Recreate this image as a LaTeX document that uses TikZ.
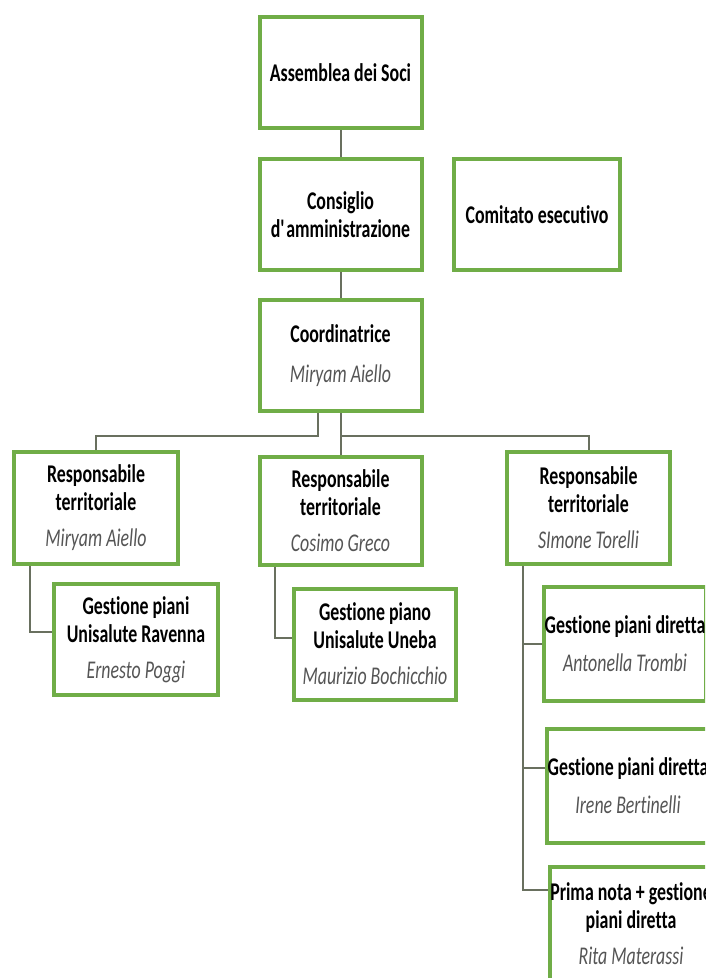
\documentclass[tikz,border=0pt]{standalone}
\usepackage{fontspec}
\setmainfont{Carlito}[FakeStretch=0.7,Ligatures={NoCommon}]
\definecolor{boxgreen}{RGB}{112,173,71}
\definecolor{linegray}{RGB}{105,112,95}
\definecolor{namegray}{RGB}{85,85,85}
\newcommand\nm[1]{{\mdseries\itshape\color{namegray}#1}}
\begin{document}
\begin{tikzpicture}[x=1pt,y=-1pt,
  box/.style={draw=boxgreen,line width=4pt,fill=white,rectangle,inner sep=0pt,
    minimum width=162pt,minimum height=111pt,align=center,
    font=\fontsize{25.5}{28}\selectfont\bfseries},
  conn/.style={draw=linegray,line width=2pt}]
\useasboundingbox (0,0) rectangle (705,978);
\clip (0,0) rectangle (705,978);
\fill[white] (0,0) rectangle (705,978);
\coordinate (j) at (340.5,436);
\node[box] (asm) at (340.5,72.5) {Assemblea dei Soci};
\node[box] (cda) at (340.5,214.5) {Consiglio\\d\textquotesingle amministrazione};
\node[box,minimum width=166pt] (ce) at (537,214.5) {Comitato esecutivo};
\node[box] (coord) at (340.5,355.5) {Coordinatrice\\[12pt]\nm{Miryam Aiello}};
\node[box,minimum width=164pt,minimum height=112pt] (r1) at (96,508) {Responsabile\\territoriale\\[8pt]\nm{Miryam Aiello}};
\node[box,minimum height=108pt] (r2) at (340.5,511) {Responsabile\\territoriale\\[8pt]\nm{Cosimo Greco}};
\node[box,minimum width=163pt,minimum height=112pt] (r3) at (588.5,508) {Responsabile\\territoriale\\[8pt]\nm{SImone Torelli}};
\node[box,minimum width=164pt] (g1) at (136,639.5) {Gestione piani\\Unisalute Ravenna\\[8pt]\nm{Ernesto Poggi}};
\node[box] (g2) at (375,644) {Gestione piano\\Unisalute Uneba\\[8pt]\nm{Maurizio Bochicchio}};
\node[box,minimum height=114pt] (d1) at (625,644) {Gestione piani diretta\\[10pt]\nm{Antonella Trombi}};
\node[box,minimum height=114pt] (d2) at (628,786) {Gestione piani diretta\\[10pt]\nm{Irene Bertinelli}};
\node[box,minimum height=114pt] (d3) at (631,924) {Prima nota + gestione\\piani diretta\\[8pt]\nm{Rita Materassi}};
\draw[conn] (asm.south) -- (cda.north);
\draw[conn] (cda.south) -- (coord.north);
\draw[conn] ([xshift=-22.5pt]coord.south) -- ++(0,23) -| (r1.north);
\draw[conn] (coord.south) -- (r2.north);
\draw[conn] (j) -| (r3.north);
\draw[conn] ([xshift=-66pt]r1.south) |- ([yshift=7.5pt]g1.west);
\draw[conn] ([xshift=-65.5pt]r2.south) |- ([yshift=6pt]g2.west);
\draw[conn] ([xshift=-65.5pt]r3.south) |- ([yshift=34pt]d3.west);
\draw[conn] ([xshift=-65.5pt]r3.south |- d1.west) -- (d1.west);
\draw[conn] ([xshift=-65.5pt]r3.south |- 0,768) -- ([yshift=18pt]d2.west);
\end{tikzpicture}
\end{document}
